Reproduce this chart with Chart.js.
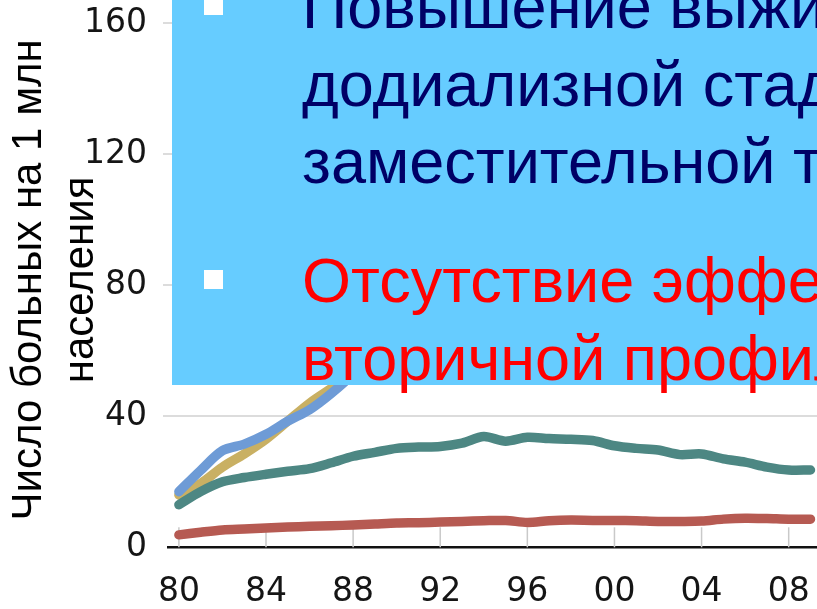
<!DOCTYPE html>
<html>
<head>
<meta charset="utf-8">
<script src="https://cdn.jsdelivr.net/npm/chart.js@4/dist/chart.umd.min.js"></script>
<style>
  html, body { margin: 0; padding: 0; background: #ffffff; overflow: hidden; }
  #wrap { position: relative; width: 817px; height: 609px; overflow: hidden; }
  #chart { position: absolute; left: 0; top: 0; }
  #box { position: absolute; left: 172px; top: 0; width: 645px; height: 385px; background: #66ccff; }
  .ln { position: absolute; left: 130px; white-space: nowrap;
        font-family: "Liberation Sans", Arial, sans-serif; font-size: 63px; line-height: 63px; }
  .navy { color: #000066; }
  .red { color: #ff0000; }
  .sq { position: absolute; left: 32px; width: 19px; height: 19px; background: #ffffff; }
</style>
</head>
<body>
<div id="wrap">
  <canvas id="chart" width="817" height="609"></canvas>
  <div id="box">
    <div class="sq" style="top:-4px"></div>
    <div class="ln navy" style="top:-25px">Повышение выживаемости на</div>
    <div class="ln navy" style="top:53px">додиализной стадии и рост</div>
    <div class="ln navy" style="top:130px">заместительной терапии</div>
    <div class="sq" style="top:270px"></div>
    <div class="ln red" style="top:249px">Отсутствие эффективной</div>
    <div class="ln red" style="top:327px">вторичной профилактики</div>
  </div>
</div>
<script>
// Years on the horizontal axis
const years = [1980, 1981, 1982, 1983, 1984, 1985, 1986, 1987, 1988, 1989,
               1990, 1991, 1992, 1993, 1994, 1995, 1996, 1997, 1998, 1999,
               2000, 2001, 2002, 2003, 2004, 2005, 2006, 2007, 2008, 2009];

// New patients per million population, by primary cause
const diabetes      = [17, 23.5, 29.5, 31.5, 34.5, 38.5, 42, 47, 53, 61,
                       69, 77, 85, 93, 101, 108, 115, 122, 129, 135,
                       140, 144, 147, 149, 151, 153, 154, 153, 152, 152];
const hypertension  = [16, 19.5, 24.5, 28.5, 33, 38.5, 44, 48.5, 53, 57,
                       61, 65, 69, 73, 77, 81, 84, 87, 90, 92,
                       94, 96, 97, 98, 99, 99, 100, 99, 99, 98];
const glomerular    = [13, 17, 20, 21.3, 22.3, 23.2, 24, 25.8, 27.8, 29,
                       30.2, 30.6, 30.8, 31.8, 33.8, 32.4, 33.6, 33.2, 33, 32.6,
                       31, 30.2, 29.7, 28.3, 28.5, 27, 26, 24.5, 23.6, 23.6];
const cystic        = [3.8, 4.6, 5.3, 5.6, 5.9, 6.2, 6.4, 6.6, 6.8, 7.1,
                       7.4, 7.5, 7.7, 7.9, 8.1, 8.2, 7.6, 8.1, 8.3, 8.2,
                       8.2, 8.1, 7.9, 7.9, 8, 8.6, 8.9, 8.8, 8.6, 8.6];

// Axis ticks
const xTickYears  = [1980, 1984, 1988, 1992, 1996, 2000, 2004, 2008];
const xTickLabels = ['80', '84', '88', '92', '96', '00', '04', '08'];
const yTickValues = [0, 40, 80, 120, 160];
const yTitle = ['Число больных на 1 млн', 'населения'];

const toPoints = arr => years.map((yr, i) => ({ x: yr, y: arr[i] }));

// Short vertical marks rising from the baseline at each labelled year
const baselineMarks = {
  id: 'baselineMarks',
  beforeDatasetsDraw(chart) {
    const { ctx, scales: { x, y } } = chart;
    const y0 = y.getPixelForValue(0);
    ctx.save();
    ctx.strokeStyle = '#c9c9c9';
    ctx.lineWidth = 1.5;
    xTickYears.forEach(t => {
      const px = x.getPixelForValue(t);
      ctx.beginPath();
      ctx.moveTo(px, y0);
      ctx.lineTo(px, y0 - 20);
      ctx.stroke();
    });
    ctx.restore();
  }
};

const lineStyle = {
  borderWidth: 9.5,
  pointRadius: 0,
  tension: 0.3,
  borderCapStyle: 'round',
  borderJoinStyle: 'round',
  fill: false
};

// Keep the plot flush with the canvas edges: no extra room for edge labels
const noEdgePadding = s => {
  s.paddingLeft = 0; s.paddingRight = 0; s.paddingTop = 0; s.paddingBottom = 0;
};

new Chart(document.getElementById('chart'), {
  type: 'line',
  data: {
    datasets: [
      { label: 'Поликистоз', data: toPoints(cystic), borderColor: '#b65a52', ...lineStyle },
      { label: 'Гломерулонефрит', data: toPoints(glomerular), borderColor: '#4d8783', ...lineStyle },
      { label: 'Диабет', data: toPoints(diabetes), borderColor: '#6e9bd6', ...lineStyle },
      { label: 'Гипертензия', data: toPoints(hypertension), borderColor: '#c9b063', ...lineStyle }
    ]
  },
  options: {
    responsive: false,
    animation: false,
    devicePixelRatio: 1,
    layout: { autoPadding: false, padding: { top: 12.5, right: 0, bottom: 0, left: 0 } },
    plugins: { legend: { display: false }, tooltip: { enabled: false } },
    scales: {
      x: {
        type: 'linear',
        min: 1979.5,
        max: 2009.3,
        afterBuildTicks: s => { s.ticks = xTickYears.map(v => ({ value: v })); },
        afterFit: s => { s.height = 61.7; noEdgePadding(s); },
        grid: { display: false, drawTicks: false },
        border: { display: true, color: '#111111', width: 2.5 },
        ticks: {
          autoSkip: false, maxRotation: 0, padding: 25, color: '#151515',
          font: { family: 'DejaVu Sans', size: 33 },
          callback: (v, i) => xTickLabels[i]
        }
      },
      y: {
        min: 0,
        max: 163.3,
        afterBuildTicks: s => { s.ticks = yTickValues.map(v => ({ value: v })); },
        afterFit: s => { s.width = 168; noEdgePadding(s); },
        grid: {
          color: c => (c.tick && c.tick.value === 0) ? 'rgba(0,0,0,0)' : '#dcdcdc',
          lineWidth: 2, drawTicks: true, tickLength: 5
        },
        border: { display: false },
        ticks: {
          padding: 16, color: '#151515',
          font: { family: 'DejaVu Sans', size: 33 }
        },
        title: {
          display: true, text: yTitle, color: '#000000',
          font: { family: 'Liberation Sans', size: 42, lineHeight: 1.24 },
          padding: { top: 3, bottom: 0 }
        }
      }
    }
  },
  plugins: [baselineMarks]
});
</script>
</body>
</html>
